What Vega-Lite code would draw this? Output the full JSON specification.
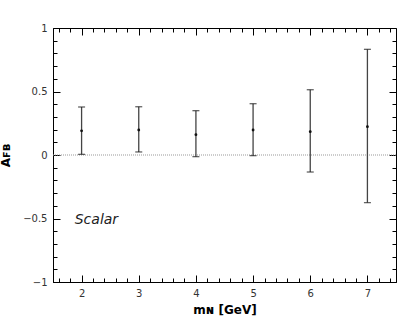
{
  "$schema": "https://vega.github.io/schema/vega-lite/v6.json",
  "width": 343,
  "height": 254,
  "autosize": {"type": "none"},
  "padding": {"left": 53, "top": 28, "right": 19, "bottom": 46},
  "config": {
    "font": "DejaVu Sans",
    "view": {"stroke": "black", "strokeWidth": 1},
    "axis": {
      "grid": false,
      "domainColor": "black",
      "tickColor": "black",
      "tickWidth": 1,
      "labelColor": "#333",
      "labelFontSize": 10,
      "titleFontWeight": "bold",
      "titleFontSize": 12,
      "titleColor": "black"
    }
  },
  "datasets": {
    "pts": [
      {"m": 2, "afb": 0.19, "lo": 0.005, "hi": 0.378},
      {"m": 3, "afb": 0.197, "lo": 0.024, "hi": 0.38},
      {"m": 4, "afb": 0.16, "lo": -0.013, "hi": 0.349},
      {"m": 5, "afb": 0.197, "lo": -0.005, "hi": 0.404},
      {"m": 6, "afb": 0.184, "lo": -0.134, "hi": 0.514},
      {"m": 7, "afb": 0.223, "lo": -0.375, "hi": 0.832}
    ],
    "zero": [{"z": 0}],
    "label": [{"x": 1.88, "y": -0.51, "t": "Scalar"}]
  },
  "resolve": {"scale": {"x": "independent", "y": "independent"}, "axis": {"x": "independent", "y": "independent"}},
  "layer": [
    {
      "data": {"name": "zero"},
      "mark": {"type": "rule", "color": "#999", "strokeDash": [1, 1], "strokeWidth": 1},
      "encoding": {
        "y": {"field": "z", "type": "quantitative", "scale": {"domain": [-1, 1], "nice": false, "zero": false}, "axis": null}
      }
    },
    {
      "data": {"name": "pts"},
      "mark": {"type": "rule", "color": "#444", "strokeWidth": 1.3},
      "encoding": {
        "x": {
          "field": "m", "type": "quantitative",
          "scale": {"domain": [1.5, 7.5], "nice": false, "zero": false},
          "axis": {
            "orient": "bottom",
            "title": "mɴ [GeV]",
            "titlePadding": 6,
            "values": [2, 3, 4, 5, 6, 7],
            "format": "~g",
            "ticks": false,
            "labelPadding": 6
          }
        },
        "y": {
          "field": "lo", "type": "quantitative",
          "scale": {"domain": [-1, 1], "nice": false, "zero": false},
          "axis": {
            "orient": "left",
            "title": "Aꜰʙ",
            "titlePadding": 10,
            "values": [-1, -0.5, 0, 0.5, 1],
            "format": "~g",
            "ticks": false,
            "labelPadding": 6
          }
        },
        "y2": {"field": "hi"}
      }
    },
    {
      "data": {"name": "pts"},
      "mark": {"type": "tick", "color": "#222", "size": 7, "thickness": 1.3, "orient": "horizontal"},
      "encoding": {
        "x": {
          "field": "m", "type": "quantitative",
          "scale": {"domain": [1.5, 7.5], "nice": false, "zero": false},
          "axis": {"orient": "top", "title": null, "labels": false, "domain": false, "values": [2, 3, 4, 5, 6, 7], "tickSize": 7, "offset": -7}
        },
        "y": {
          "field": "hi", "type": "quantitative",
          "scale": {"domain": [-1, 1], "nice": false, "zero": false},
          "axis": {"orient": "right", "title": null, "labels": false, "domain": false, "values": [-1, -0.5, 0, 0.5, 1], "tickSize": 7, "offset": -7}
        }
      }
    },
    {
      "data": {"name": "pts"},
      "mark": {"type": "tick", "color": "#222", "size": 7, "thickness": 1.3, "orient": "horizontal"},
      "encoding": {
        "x": {
          "field": "m", "type": "quantitative",
          "scale": {"domain": [1.5, 7.5], "nice": false, "zero": false},
          "axis": {"orient": "bottom", "title": null, "labels": false, "domain": false, "values": [2, 3, 4, 5, 6, 7], "tickSize": 7, "offset": -7}
        },
        "y": {
          "field": "lo", "type": "quantitative",
          "scale": {"domain": [-1, 1], "nice": false, "zero": false},
          "axis": {"orient": "left", "title": null, "labels": false, "domain": false, "values": [-1, -0.5, 0, 0.5, 1], "tickSize": 7, "offset": -7}
        }
      }
    },
    {
      "data": {"name": "pts"},
      "mark": {"type": "point", "filled": true, "color": "#111", "size": 8, "opacity": 1},
      "encoding": {
        "x": {
          "field": "m", "type": "quantitative",
          "scale": {"domain": [1.5, 7.5], "nice": false, "zero": false},
          "axis": {"orient": "bottom", "title": null, "labels": false, "domain": false,
            "values": [1.6, 1.8, 2.2, 2.4, 2.6, 2.8, 3.2, 3.4, 3.6, 3.8, 4.2, 4.4, 4.6, 4.8, 5.2, 5.4, 5.6, 5.8, 6.2, 6.4, 6.6, 6.8, 7.2, 7.4],
            "tickSize": 4, "offset": -4}
        },
        "y": {
          "field": "afb", "type": "quantitative",
          "scale": {"domain": [-1, 1], "nice": false, "zero": false},
          "axis": {"orient": "left", "title": null, "labels": false, "domain": false,
            "values": [-0.9, -0.8, -0.7, -0.6, -0.4, -0.3, -0.2, -0.1, 0.1, 0.2, 0.3, 0.4, 0.6, 0.7, 0.8, 0.9],
            "tickSize": 4, "offset": -4}
        }
      }
    },
    {
      "data": {"name": "label"},
      "mark": {"type": "text", "align": "left", "baseline": "middle", "fontStyle": "italic", "fontSize": 14, "color": "#222"},
      "encoding": {
        "x": {
          "field": "x", "type": "quantitative",
          "scale": {"domain": [1.5, 7.5], "nice": false, "zero": false},
          "axis": {"orient": "top", "title": null, "labels": false, "domain": false,
            "values": [1.6, 1.8, 2.2, 2.4, 2.6, 2.8, 3.2, 3.4, 3.6, 3.8, 4.2, 4.4, 4.6, 4.8, 5.2, 5.4, 5.6, 5.8, 6.2, 6.4, 6.6, 6.8, 7.2, 7.4],
            "tickSize": 4, "offset": -4}
        },
        "y": {
          "field": "y", "type": "quantitative",
          "scale": {"domain": [-1, 1], "nice": false, "zero": false},
          "axis": {"orient": "right", "title": null, "labels": false, "domain": false,
            "values": [-0.9, -0.8, -0.7, -0.6, -0.4, -0.3, -0.2, -0.1, 0.1, 0.2, 0.3, 0.4, 0.6, 0.7, 0.8, 0.9],
            "tickSize": 4, "offset": -4}
        },
        "text": {"field": "t"}
      }
    }
  ]
}
